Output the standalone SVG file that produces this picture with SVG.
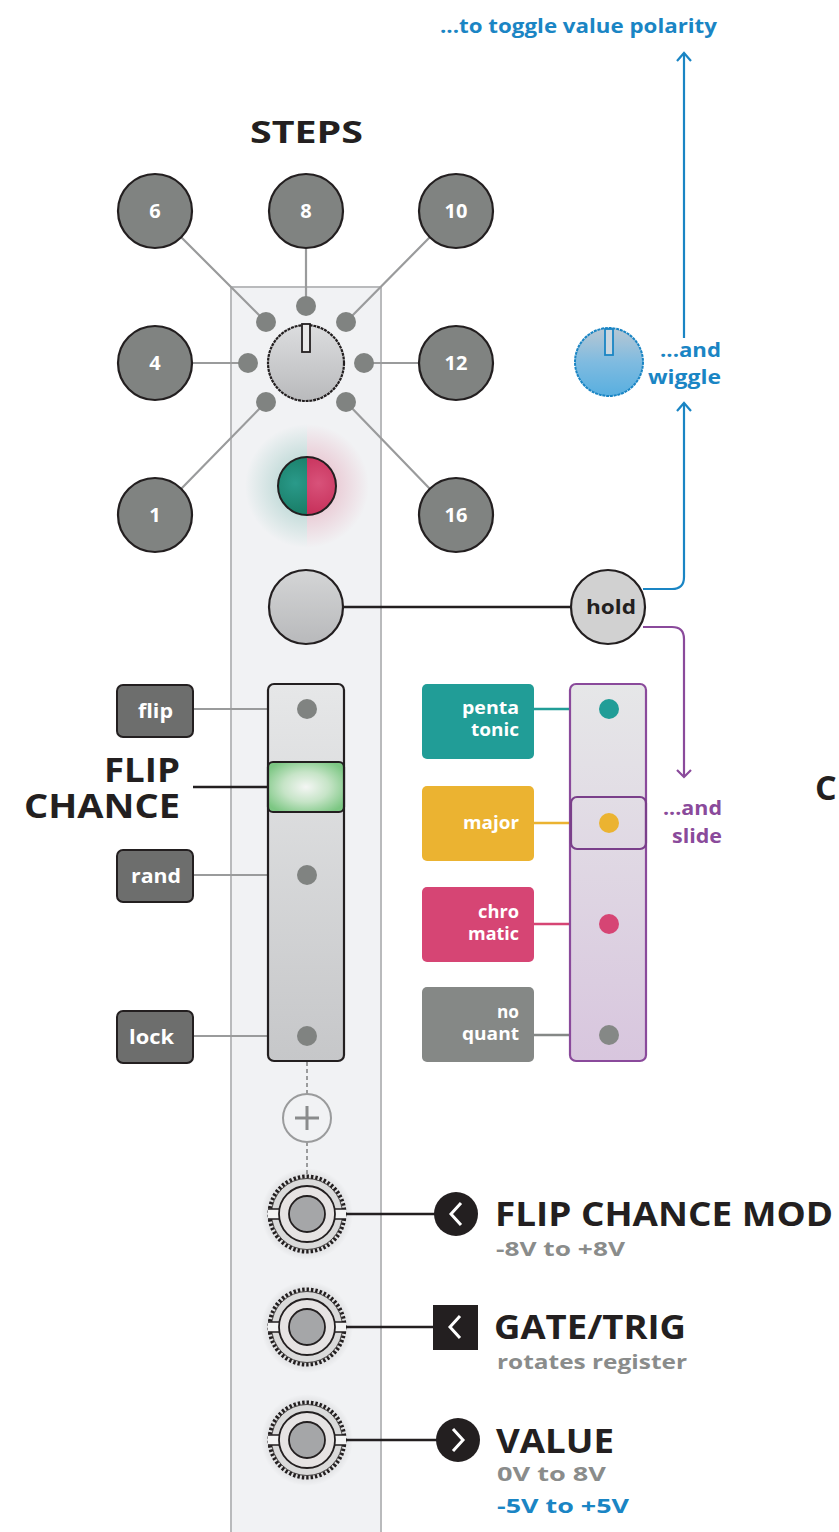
<svg xmlns="http://www.w3.org/2000/svg" width="839" height="1532" viewBox="0 0 839 1532">
<defs>
<style>
.t{font-family:"Open Sans","Liberation Sans",sans-serif;font-weight:700}
.step{fill:#808381;stroke:#231f20;stroke-width:2.2}
.stepT{fill:#fff;font-size:20px;text-anchor:middle}
.dot{fill:#808381}
.gl{stroke:#9a9b9c;stroke-width:2.2;fill:none}
.lbl{fill:#6d6e6d;stroke:#231f20;stroke-width:2}
.lblT{fill:#fff;font-size:19px}
.box{stroke:none}
.boxT{fill:#fff;font-size:18px}
.big{fill:#231f20;font-size:34px}
.sub{fill:#8a8c8b;font-size:20px}
.blue{fill:#1a85c4}
.purple{fill:#8a4a9b}
</style>
<linearGradient id="knobG" x1="0" y1="0" x2="0" y2="1"><stop offset="0" stop-color="#dcdddf"/><stop offset="1" stop-color="#b9babc"/></linearGradient>
<linearGradient id="btnG" x1="0" y1="0" x2="0" y2="1"><stop offset="0" stop-color="#d4d5d6"/><stop offset="1" stop-color="#b8b9bb"/></linearGradient>
<linearGradient id="blueKnob" x1="0" y1="0" x2="0" y2="1"><stop offset="0" stop-color="#b8c7d3"/><stop offset="0.5" stop-color="#7fbbe0"/><stop offset="1" stop-color="#58afe0"/></linearGradient>
<linearGradient id="sl1" x1="0" y1="0" x2="0" y2="1"><stop offset="0" stop-color="#e6e7e8"/><stop offset="1" stop-color="#c6c7c9"/></linearGradient>
<linearGradient id="sl2" x1="0" y1="0" x2="0" y2="1"><stop offset="0" stop-color="#e6e7e8"/><stop offset="1" stop-color="#d8c6de"/></linearGradient>
<radialGradient id="green" cx="0.5" cy="0.5" r="0.6"><stop offset="0" stop-color="#f4f6f4"/><stop offset="0.5" stop-color="#c6e4c7"/><stop offset="1" stop-color="#7cc783"/></radialGradient>
<radialGradient id="glowT"><stop offset="0.4" stop-color="#1a8a78" stop-opacity="0.22"/><stop offset="1" stop-color="#1a8a78" stop-opacity="0"/></radialGradient>
<radialGradient id="glowP"><stop offset="0.4" stop-color="#cf3a62" stop-opacity="0.22"/><stop offset="1" stop-color="#cf3a62" stop-opacity="0"/></radialGradient>
<radialGradient id="ledT" cx="0.3" cy="0.45" r="0.6"><stop offset="0" stop-color="#2a9a8a"/><stop offset="1" stop-color="#177a63"/></radialGradient>
<radialGradient id="ledP" cx="0.7" cy="0.45" r="0.6"><stop offset="0" stop-color="#d8527a"/><stop offset="1" stop-color="#c52d57"/></radialGradient>
<radialGradient id="jackShadow"><stop offset="0.7" stop-color="#000" stop-opacity="0.12"/><stop offset="1" stop-color="#000" stop-opacity="0"/></radialGradient>
<clipPath id="leftHalf"><rect x="200" y="400" width="107" height="180"/></clipPath>
<clipPath id="rightHalf"><rect x="307" y="400" width="107" height="180"/></clipPath>
<marker id="arB" viewBox="-10 -10 12 20" markerWidth="12" markerHeight="20" refX="0" refY="0" orient="auto" markerUnits="userSpaceOnUse"><path d="M-8,-7 L0,0 L-8,7" fill="none" stroke="#1a85c4" stroke-width="2.2"/></marker>
<g id="jack">
<circle r="46" fill="url(#jackShadow)"/>
<circle r="37.5" fill="#dedede" stroke="#231f20" stroke-width="4" stroke-dasharray="2.4 2"/>
<circle r="35.5" fill="#dadada" stroke="#231f20" stroke-width="0.8"/>
<rect x="-39" y="-5" width="78" height="10" fill="#f3f3f3"/>
<path d="M-39,-5 H-28 M-39,5 H-28 M28,-5 H39 M28,5 H39" stroke="#231f20" stroke-width="1.3"/>
<circle r="28" fill="#e6e3e3" stroke="#231f20" stroke-width="1.8"/>
<circle r="18" fill="#a5a6a8" stroke="#231f20" stroke-width="1.8"/>
</g>
</defs>
<rect width="839" height="1532" fill="#fff"/>

<g id="panel"><rect x="231" y="287" width="150" height="1250" fill="#f1f2f4" stroke="#b9babc" stroke-width="2"/></g>

<g id="connectors">
<path class="gl" d="M181,237 L266,322 M306,248 V306 M430,237 L346,322 M192,363 H248 M364,363 H419 M181,489 L266,402 M430,489 L346,402"/>
<path d="M343,607 H571" stroke="#231f20" stroke-width="2.4"/>
<path d="M643,589 H672 Q684,589 684,577 V403" fill="none" stroke="#1a85c4" stroke-width="2.2" marker-end="url(#arB)"/>
<path d="M684,338 V53" fill="none" stroke="#1a85c4" stroke-width="2.2" marker-end="url(#arB)"/>
<path d="M643,627 H672 Q684,627 684,639 V777" fill="none" stroke="#8a4a9b" stroke-width="2.2"/>
<path d="M677,770 L684,777 L691,770" fill="none" stroke="#8a4a9b" stroke-width="2.2"/>
<path class="gl" d="M193,709 H307 M193,875 H307 M193,1036 H307"/>
<path d="M193,787 H268" stroke="#231f20" stroke-width="2.4"/>
<path d="M534,709 H609" stroke="#219d97" stroke-width="2.4"/>
<path d="M534,823 H609" stroke="#ebb331" stroke-width="2.4"/>
<path d="M534,924 H609" stroke="#d64574" stroke-width="2.4"/>
<path d="M534,1035 H609" stroke="#858886" stroke-width="2.4"/>
<path d="M307,1062 V1094 M307,1142 V1178" stroke="#9a9b9c" stroke-width="2" stroke-dasharray="4 3"/>
<path d="M345,1214 H440 M345,1327 H433 M345,1440 H440" stroke="#231f20" stroke-width="2.4"/>
</g>

<text class="t" x="250" y="143" font-size="31" fill="#231f20" textLength="113" lengthAdjust="spacingAndGlyphs">STEPS</text>
<text class="t blue" x="440" y="33" font-size="19" textLength="277" lengthAdjust="spacingAndGlyphs">...to toggle value polarity</text>

<g id="step6"><circle class="step" cx="155" cy="211" r="37"/><text class="t stepT" x="155" y="218">6</text></g>
<g id="step8"><circle class="step" cx="306" cy="211" r="37"/><text class="t stepT" x="306" y="218">8</text></g>
<g id="step10"><circle class="step" cx="456" cy="211" r="37"/><text class="t stepT" x="456" y="218">10</text></g>
<g id="step4"><circle class="step" cx="155" cy="363" r="37"/><text class="t stepT" x="155" y="370">4</text></g>
<g id="step12"><circle class="step" cx="456" cy="363" r="37"/><text class="t stepT" x="456" y="370">12</text></g>
<g id="step1"><circle class="step" cx="155" cy="515" r="37"/><text class="t stepT" x="155" y="522">1</text></g>
<g id="step16"><circle class="step" cx="456" cy="515" r="37"/><text class="t stepT" x="456" y="522">16</text></g>

<g id="stepsKnob">
<circle class="dot" cx="266" cy="322" r="10"/><circle class="dot" cx="306" cy="306" r="10"/><circle class="dot" cx="346" cy="322" r="10"/>
<circle class="dot" cx="248" cy="363" r="10"/><circle class="dot" cx="364" cy="363" r="10"/>
<circle class="dot" cx="266" cy="402" r="10"/><circle class="dot" cx="346" cy="402" r="10"/>
<circle cx="306" cy="363" r="38" fill="url(#knobG)" stroke="#231f20" stroke-width="2.2" stroke-dasharray="3 0.8"/>
<rect x="302" y="324" width="8" height="28" fill="#e8e8e8" stroke="#231f20" stroke-width="1.8"/>
</g>

<g id="led">
<circle cx="307" cy="486" r="62" fill="url(#glowT)" clip-path="url(#leftHalf)"/>
<circle cx="307" cy="486" r="62" fill="url(#glowP)" clip-path="url(#rightHalf)"/>
<circle cx="307" cy="486" r="29" fill="url(#ledT)" clip-path="url(#leftHalf)"/>
<circle cx="307" cy="486" r="29" fill="url(#ledP)" clip-path="url(#rightHalf)"/>
<circle cx="307" cy="486" r="29" fill="none" stroke="#231f20" stroke-width="2"/>
</g>

<g id="button"><circle cx="306" cy="607" r="37" fill="url(#btnG)" stroke="#231f20" stroke-width="2.2"/></g>
<g id="hold"><circle cx="608" cy="607" r="37" fill="#d1d1d1" stroke="#231f20" stroke-width="2.2"/><text class="t" x="586" y="614" font-size="20" fill="#231f20" textLength="50" lengthAdjust="spacingAndGlyphs">hold</text></g>

<g id="wiggleKnob">
<circle cx="609" cy="362" r="34" fill="url(#blueKnob)" stroke="#1a85c4" stroke-width="2" stroke-dasharray="3 0.8"/>
<rect x="605" y="329" width="8" height="26" fill="#c9d6e0" stroke="#1a85c4" stroke-width="1.8"/>
</g>
<text class="t blue" font-size="19"><tspan x="660" y="357" textLength="61" lengthAdjust="spacingAndGlyphs">...and</tspan><tspan x="648" y="384" textLength="73" lengthAdjust="spacingAndGlyphs">wiggle</tspan></text>
<text class="t purple" font-size="19"><tspan x="663" y="815" textLength="59" lengthAdjust="spacingAndGlyphs">...and</tspan><tspan x="672" y="843" textLength="50" lengthAdjust="spacingAndGlyphs">slide</tspan></text>

<g id="flipSlider">
<rect x="268" y="684" width="76" height="377" rx="6" fill="url(#sl1)" stroke="#231f20" stroke-width="2.2"/>
<circle class="dot" cx="307" cy="709" r="10"/>
<circle class="dot" cx="307" cy="875" r="10"/>
<circle class="dot" cx="307" cy="1036" r="10"/>
<rect x="268" y="762" width="76" height="50" rx="5" fill="url(#green)" stroke="#231f20" stroke-width="2.2"/>
</g>
<g id="flip"><rect class="lbl" x="117" y="685" width="76" height="52" rx="6"/><text class="t lblT" x="138" y="718" textLength="35" lengthAdjust="spacingAndGlyphs">flip</text></g>
<g id="rand"><rect class="lbl" x="117" y="850" width="76" height="52" rx="6"/><text class="t lblT" x="131" y="883" textLength="50" lengthAdjust="spacingAndGlyphs">rand</text></g>
<g id="lock"><rect class="lbl" x="117" y="1011" width="76" height="52" rx="6"/><text class="t lblT" x="129" y="1044" textLength="45" lengthAdjust="spacingAndGlyphs">lock</text></g>
<text class="t big" x="104" y="782" textLength="76" lengthAdjust="spacingAndGlyphs">FLIP</text>
<text class="t big" x="24" y="818" textLength="156" lengthAdjust="spacingAndGlyphs">CHANCE</text>
<text class="t big" x="815" y="800">C</text>

<g id="quantSlider">
<rect x="570" y="684" width="76" height="377" rx="6" fill="url(#sl2)" stroke="#8a4a9b" stroke-width="2.2"/>
<rect x="571" y="797" width="75" height="52" rx="6" fill="none" stroke="#7a3f8a" stroke-width="2.2"/>
<circle cx="609" cy="709" r="10" fill="#219d97"/>
<circle cx="609" cy="823" r="10" fill="#ebb331"/>
<circle cx="609" cy="924" r="10" fill="#d64574"/>
<circle cx="609" cy="1035" r="10" fill="#858886"/>
</g>
<g id="pentatonic"><rect class="box" x="422" y="684" width="112" height="75" rx="5" fill="#219d97"/><text class="t boxT"><tspan x="462" y="714" textLength="57" lengthAdjust="spacingAndGlyphs">penta</tspan><tspan x="471" y="736" textLength="48" lengthAdjust="spacingAndGlyphs">tonic</tspan></text></g>
<g id="major"><rect class="box" x="422" y="786" width="112" height="75" rx="5" fill="#ebb331"/><text class="t boxT" x="463" y="829" textLength="56" lengthAdjust="spacingAndGlyphs">major</text></g>
<g id="chromatic"><rect class="box" x="422" y="887" width="112" height="75" rx="5" fill="#d64574"/><text class="t boxT"><tspan x="478" y="918" textLength="41" lengthAdjust="spacingAndGlyphs">chro</tspan><tspan x="468" y="940" textLength="51" lengthAdjust="spacingAndGlyphs">matic</tspan></text></g>
<g id="noquant"><rect class="box" x="422" y="987" width="112" height="75" rx="5" fill="#858886"/><text class="t boxT"><tspan x="497" y="1018" textLength="22" lengthAdjust="spacingAndGlyphs">no</tspan><tspan x="462" y="1040" textLength="57" lengthAdjust="spacingAndGlyphs">quant</tspan></text></g>

<g id="plus"><circle cx="307" cy="1118" r="24" fill="none" stroke="#9a9b9c" stroke-width="2"/><path d="M307,1106 V1130 M295,1118 H319" stroke="#8a8b8c" stroke-width="3"/></g>

<g id="jackFlipMod"><use href="#jack" x="307" y="1214"/></g>
<g id="jackGate"><use href="#jack" x="307" y="1327"/></g>
<g id="jackValue"><use href="#jack" x="307" y="1440"/></g>

<g id="iconFlipMod"><circle cx="456" cy="1214" r="22" fill="#231f20"/><path d="M461,1203 L451,1214 L461,1225" fill="none" stroke="#fff" stroke-width="3"/></g>
<g id="iconGate"><rect x="433" y="1305" width="45" height="45" fill="#231f20"/><path d="M460,1316 L450,1327 L460,1338" fill="none" stroke="#fff" stroke-width="3"/></g>
<g id="iconValue"><circle cx="458" cy="1440" r="22" fill="#231f20"/><path d="M453,1429 L463,1440 L453,1451" fill="none" stroke="#fff" stroke-width="3"/></g>

<text class="t big" x="495" y="1226" textLength="338" lengthAdjust="spacingAndGlyphs">FLIP CHANCE MOD</text>
<text class="t sub" x="496" y="1256" textLength="129" lengthAdjust="spacingAndGlyphs">-8V to +8V</text>
<text class="t big" x="494" y="1339" textLength="192" lengthAdjust="spacingAndGlyphs">GATE/TRIG</text>
<text class="t sub" x="497" y="1369" textLength="190" lengthAdjust="spacingAndGlyphs">rotates register</text>
<text class="t big" x="496" y="1453" textLength="118" lengthAdjust="spacingAndGlyphs">VALUE</text>
<text class="t sub" x="497" y="1481" textLength="109" lengthAdjust="spacingAndGlyphs">0V to 8V</text>
<text class="t blue" x="497" y="1513" font-size="20" textLength="132" lengthAdjust="spacingAndGlyphs">-5V to +5V</text>
</svg>
